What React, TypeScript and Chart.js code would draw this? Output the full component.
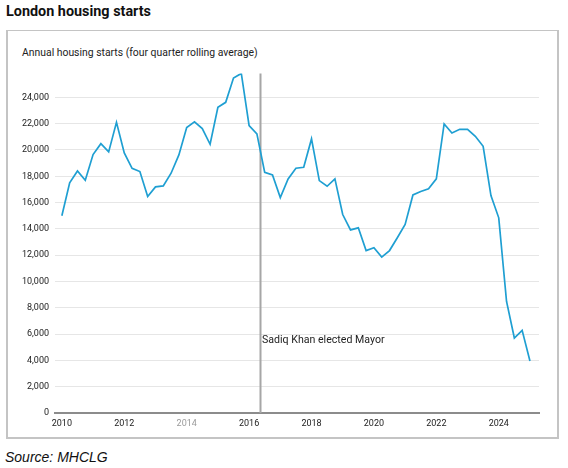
import React, { useEffect, useRef } from 'react';
import { Chart, registerables } from 'chart.js';

Chart.register(...registerables);

// Quarterly periods, 2010 Q1 through 2025 Q1
const QUARTERS: string[] = [
  '2010 Q1', '2010 Q2', '2010 Q3', '2010 Q4',
  '2011 Q1', '2011 Q2', '2011 Q3', '2011 Q4',
  '2012 Q1', '2012 Q2', '2012 Q3', '2012 Q4',
  '2013 Q1', '2013 Q2', '2013 Q3', '2013 Q4',
  '2014 Q1', '2014 Q2', '2014 Q3', '2014 Q4',
  '2015 Q1', '2015 Q2', '2015 Q3', '2015 Q4',
  '2016 Q1', '2016 Q2', '2016 Q3', '2016 Q4',
  '2017 Q1', '2017 Q2', '2017 Q3', '2017 Q4',
  '2018 Q1', '2018 Q2', '2018 Q3', '2018 Q4',
  '2019 Q1', '2019 Q2', '2019 Q3', '2019 Q4',
  '2020 Q1', '2020 Q2', '2020 Q3', '2020 Q4',
  '2021 Q1', '2021 Q2', '2021 Q3', '2021 Q4',
  '2022 Q1', '2022 Q2', '2022 Q3', '2022 Q4',
  '2023 Q1', '2023 Q2', '2023 Q3', '2023 Q4',
  '2024 Q1', '2024 Q2', '2024 Q3', '2024 Q4',
  '2025 Q1',
];

// Annual housing starts, four quarter rolling average
const STARTS: number[] = [
  15000, 17500, 18400, 17700,
  19650, 20480, 19850, 22100,
  19770, 18600, 18360, 16460,
  17190, 17270, 18230, 19620,
  21700, 22130, 21620, 20430,
  23240, 23620, 25470, 25820,
  21850, 21220, 18300, 18100,
  16380, 17800, 18610, 18680,
  20840, 17670, 17240, 17800,
  15090, 13920, 14080, 12350,
  12560, 11850, 12350, 13320,
  14330, 16580, 16840, 17040,
  17800, 21980, 21290, 21570,
  21570, 21040, 20280, 16530,
  14840, 8480, 5700, 6280,
  3950,
];

const Y_TICKS: number[] = [0, 2000, 4000, 6000, 8000, 10000, 12000, 14000, 16000, 18000, 20000, 22000, 24000];
const X_TICKS: number[] = [2010, 2012, 2014, 2016, 2018, 2020, 2022, 2024];
const MUTED_X_TICK = 2014;

const EVENT_LABEL = 'Sadiq Khan elected Mayor';
const EVENT_DATE = 2016.35; // May 2016

const FONT = 'Roboto, "Noto Sans", Arial, sans-serif';

function quarterPosition(label: string): number {
  const [year, q] = label.split(' Q');
  return Number(year) + (Number(q) - 1) / 4;
}

const eventLine = {
  id: 'eventLine',
  beforeDatasetsDraw(chart: any) {
    const { ctx, chartArea, scales } = chart;
    const x = Math.round(scales.x.getPixelForValue(EVENT_DATE)) + 0.5;
    ctx.save();
    ctx.strokeStyle = '#a6a6a6';
    ctx.lineWidth = 2;
    ctx.beginPath();
    ctx.moveTo(x, chartArea.top);
    ctx.lineTo(x, chartArea.bottom);
    ctx.stroke();
    ctx.restore();
  },
  afterDatasetsDraw(chart: any) {
    const { ctx, scales } = chart;
    const x = scales.x.getPixelForValue(EVENT_DATE);
    const y = scales.y.getPixelForValue(5500);
    ctx.save();
    ctx.fillStyle = '#222';
    ctx.font = `10.6px ${FONT}`;
    ctx.textAlign = 'left';
    ctx.textBaseline = 'middle';
    ctx.fillText(EVENT_LABEL, x + 2, y);
    ctx.restore();
  },
};

export default function App() {
  const canvasRef = useRef<HTMLCanvasElement | null>(null);

  useEffect(() => {
    document.body.style.margin = '0';
    const canvas = canvasRef.current;
    if (!canvas) return;

    const points = QUARTERS.map((q, i) => ({ x: quarterPosition(q), y: STARTS[i] }));

    const chart = new Chart(canvas, {
      type: 'line',
      data: {
        datasets: [
          {
            label: 'Housing starts',
            data: points,
            borderColor: '#1f9fd2',
            borderWidth: 1.7,
            pointRadius: 0,
            tension: 0,
            fill: false,
          },
        ],
      },
      options: {
        animation: false,
        responsive: false,
        maintainAspectRatio: false,
        layout: { padding: { top: 9, right: 13, left: 0, bottom: 0 } },
        plugins: {
          legend: { display: false },
          tooltip: { enabled: false },
        },
        scales: {
          x: {
            type: 'linear',
            min: 2009.78,
            max: 2025.29,
            afterBuildTicks: (scale: any) => {
              scale.ticks = X_TICKS.map((v) => ({ value: v }));
            },
            afterFit: (scale: any) => {
              scale.height = 21;
            },
            grid: { display: false, drawTicks: false },
            border: { display: true, color: '#8c8c8c', width: 2 },
            ticks: {
              padding: 5,
              maxRotation: 0,
              autoSkip: false,
              font: { family: FONT, size: 9 },
              color: (c: any) => (c.tick && c.tick.value === MUTED_X_TICK ? '#9a9a9a' : '#222'),
              callback: (v: any) => String(v),
            },
          },
          y: {
            type: 'linear',
            min: 0,
            max: Math.max(...STARTS),
            afterBuildTicks: (scale: any) => {
              scale.ticks = Y_TICKS.map((v) => ({ value: v }));
            },
            afterFit: (scale: any) => {
              scale.width = 48;
            },
            grid: { color: '#e6e6e6', lineWidth: 1, drawTicks: false },
            border: { display: false },
            ticks: {
              padding: 6,
              font: { family: FONT, size: 9 },
              color: '#222',
              callback: (v: any) => Number(v).toLocaleString('en-GB'),
            },
          },
        },
      },
      plugins: [eventLine],
    });

    return () => chart.destroy();
  }, []);

  return (
    <div style={{ position: 'relative', width: 568, height: 468, background: '#fff', overflow: 'hidden' }}>
      <div
        style={{
          position: 'absolute',
          left: 6,
          top: 3,
          fontFamily: FONT,
          fontWeight: 700,
          fontSize: 14.4,
          color: '#111',
          whiteSpace: 'nowrap',
        }}
      >
        London housing starts
      </div>
      <div
        style={{
          position: 'absolute',
          left: 6,
          top: 30,
          width: 549,
          height: 406,
          border: '1px solid #c4c4c4',
          borderLeftWidth: 2,
          borderBottomWidth: 2,
          borderRightWidth: 2,
        }}
      />
      <div
        style={{
          position: 'absolute',
          left: 22,
          top: 46,
          fontFamily: FONT,
          fontSize: 10.4,
          color: '#222',
          whiteSpace: 'nowrap',
        }}
      >
        Annual housing starts (four quarter rolling average)
      </div>
      <canvas
        ref={canvasRef}
        width={545}
        height={372}
        style={{ position: 'absolute', left: 7, top: 62, width: 545, height: 372 }}
      />
      <div
        style={{
          position: 'absolute',
          left: 5,
          top: 449,
          fontFamily: '"Liberation Sans", Arial, sans-serif',
          fontStyle: 'italic',
          fontSize: 14,
          color: '#111',
          whiteSpace: 'nowrap',
        }}
      >
        Source: MHCLG
      </div>
    </div>
  );
}
